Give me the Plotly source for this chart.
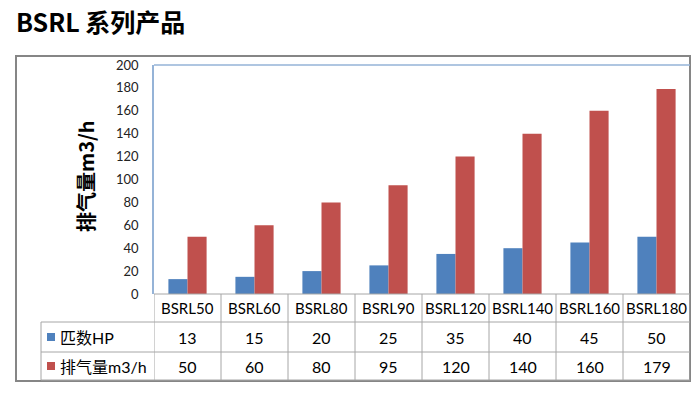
import plotly.graph_objects as go

categories = ["BSRL50", "BSRL60", "BSRL80", "BSRL90", "BSRL120", "BSRL140", "BSRL160", "BSRL180"]
hp_values = [13, 15, 20, 25, 35, 40, 45, 50]
flow_values = [50, 60, 80, 95, 120, 140, 160, 179]
series_names = ["匹数HP", "排气量m3/h"]
series_colors = ["#4F81BD", "#C0504D"]
y_ticks = [0, 20, 40, 60, 80, 100, 120, 140, 160, 180, 200]
title_text = "BSRL 系列产品"
y_title = "排气量m3/h"

W, H = 700, 397
L, R, T, B = 154, 10, 65, 103
PW = W - L - R
PH = H - T - B


def px_x(x):
    return (x - L) / PW


def px_y(y):
    return (H - B - y) / PH


FONT = "Lato, 'Noto Sans CJK SC', sans-serif"

fig = go.Figure()
for name, vals, col in zip(series_names, [hp_values, flow_values], series_colors):
    fig.add_trace(go.Bar(x=categories, y=vals, name=name, marker=dict(color=col, line=dict(width=0)),
                         showlegend=False))

grid = "#A6A6A6"
shapes = []
# outer frame
shapes.append(dict(type="rect", xref="paper", yref="paper", x0=px_x(16), x1=px_x(690), y0=px_y(381), y1=px_y(56),
                   line=dict(color="#868686", width=2), fillcolor="rgba(0,0,0,0)", layer="below"))
# plot area top line (light blue)
shapes.append(dict(type="line", xref="paper", yref="paper", x0=0, x1=1, y0=1, y1=1,
                   line=dict(color="#95B3D7", width=1.5)))
# table horizontal lines
shapes.append(dict(type="line", xref="paper", yref="paper", x0=0, x1=1, y0=0, y1=0, line=dict(color=grid, width=1)))
for yy in [322, 352, 380]:
    shapes.append(dict(type="line", xref="paper", yref="paper", x0=px_x(41), x1=1, y0=px_y(yy), y1=px_y(yy),
                       line=dict(color=grid, width=1)))
# table vertical lines
for k in range(len(categories) + 1):
    shapes.append(dict(type="line", xref="x", yref="paper", x0=k - 0.5, x1=k - 0.5, y0=0, y1=px_y(380),
                       line=dict(color=grid, width=1)))
shapes.append(dict(type="line", xref="paper", yref="paper", x0=px_x(41), x1=px_x(41), y0=px_y(322), y1=px_y(380),
                   line=dict(color=grid, width=1)))
# legend keys
for yy, col in zip([337, 366], series_colors):
    shapes.append(dict(type="rect", xref="paper", yref="paper", x0=px_x(47), x1=px_x(55), y0=px_y(yy + 4),
                       y1=px_y(yy - 4), line=dict(width=0), fillcolor=col))

annotations = []
annotations.append(dict(text=title_text, xref="paper", yref="paper", x=px_x(14), y=px_y(21), xanchor="left",
                        yanchor="middle", showarrow=False,
                        font=dict(family="'Noto Sans CJK SC', sans-serif", size=25, color="#000000", weight="bold")))
annotations.append(dict(text=y_title, xref="paper", yref="paper", x=px_x(85), y=px_y(176), textangle=-90,
                        xanchor="center", yanchor="middle", showarrow=False,
                        font=dict(family="'Noto Sans CJK SC', sans-serif", size=20, color="#000000", weight="bold")))
for c in categories:
    annotations.append(dict(text=c, xref="x", yref="paper", x=c, y=px_y(308), showarrow=False,
                            xanchor="center", yanchor="middle", font=dict(family=FONT, size=15, color="#000000")))
for row_y, name, vals in zip([337, 366], series_names, [hp_values, flow_values]):
    annotations.append(dict(text=name, xref="paper", yref="paper", x=px_x(58), y=px_y(row_y), showarrow=False,
                            xanchor="left", yanchor="middle", font=dict(family=FONT, size=16, color="#000000")))
    for c, v in zip(categories, vals):
        annotations.append(dict(text=str(v), xref="x", yref="paper", x=c, y=px_y(row_y), showarrow=False,
                                xanchor="center", yanchor="middle", font=dict(family=FONT, size=16, color="#000000")))

fig.update_layout(
    width=W, height=H, autosize=False,
    margin=dict(l=L, r=R, t=T, b=B, pad=0),
    paper_bgcolor="#FFFFFF", plot_bgcolor="#FFFFFF",
    barmode="group", bargap=0.43, bargroupgap=0,
    shapes=shapes, annotations=annotations,
    xaxis=dict(showticklabels=False, showgrid=False, zeroline=False, showline=False, ticks="",
               range=[-0.5, len(categories) - 0.5], fixedrange=True),
    yaxis=dict(range=[0, 200], tickvals=y_ticks, showgrid=False, zeroline=False, showline=True,
               linecolor="#95B3D7", linewidth=1.5, ticks="outside", ticklen=0, ticklabelstandoff=11,
               tickfont=dict(family=FONT, size=13, color="#222222"), fixedrange=True),
    font=dict(family=FONT),
)

fig.write_html("out.html", config={"displayModeBar": False},
               post_script="document.body.style.margin='0';document.body.style.overflow='hidden';")
